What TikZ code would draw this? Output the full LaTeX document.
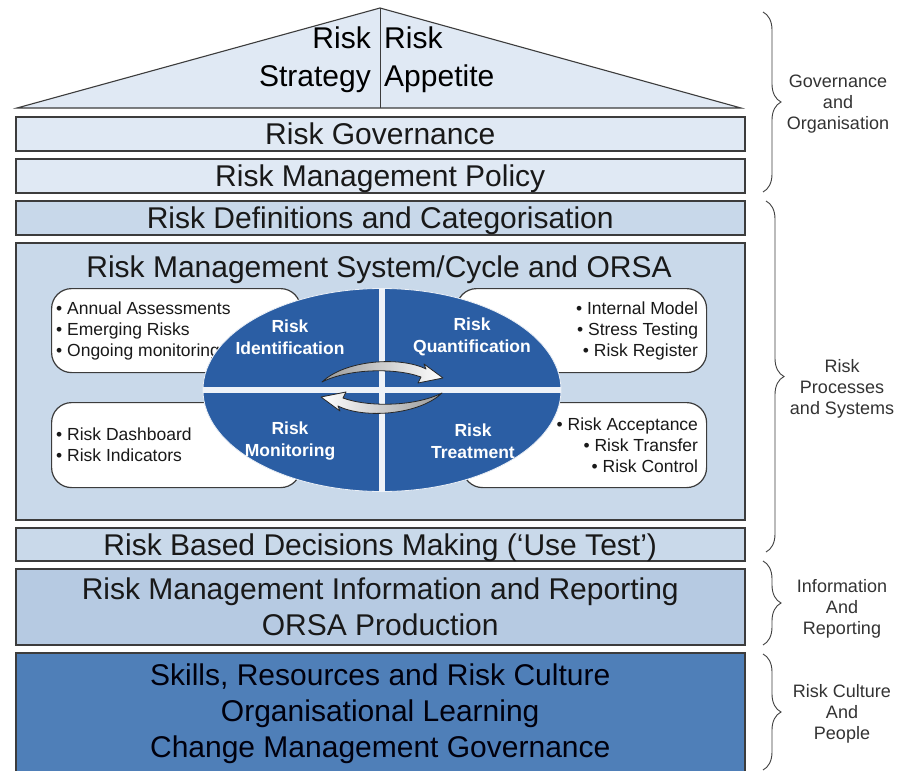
\documentclass[tikz,border=0pt]{standalone}
\usepackage{fontspec}
\setmainfont{Liberation Sans}
\usepackage{tikz}
\usepackage{xcolor}
\usetikzlibrary{arrows.meta, positioning, shapes.geometric, decorations.pathreplacing, calc}
\definecolor{govFill}{HTML}{E0E9F4}
\definecolor{defFill}{HTML}{C8D8EA}
\definecolor{sysFill}{HTML}{C9D9EA}
\definecolor{infoFill}{HTML}{B6CAE2}
\definecolor{cultureFill}{HTML}{4F7FB8}
\definecolor{cycleBlue}{HTML}{2B5EA4}
\definecolor{edgeGray}{HTML}{3C3C3C}
\tikzset{
    layerBox/.style={draw=edgeGray, line width=1.5pt, inner sep=0pt, minimum width=729pt, anchor=north west,
        font=\fontsize{30}{36}\selectfont, align=center, text=black!90},
    flatText/.style={text height=21.5pt, text depth=0pt},
    roofShape/.style={draw=edgeGray, fill=govFill, line width=1.1pt, line join=miter},
    noteBox/.style={draw=edgeGray, fill=white, line width=1.2pt, rounded corners=20pt, inner sep=0pt, anchor=north west},
    noteText/.style={font=\fontsize{17.5}{21}\selectfont, inner sep=0pt, text=black!90},
    quadText/.style={font=\fontsize{17.5}{22}\selectfont\bfseries, text=white, align=center, inner sep=0pt},
    cycleDisc/.style={ellipse, fill=cycleBlue, draw=white!90!cycleBlue, line width=0.8pt,
        minimum width=358pt, minimum height=203pt, inner sep=0pt},
    gapLine/.style={draw=white!92!cycleBlue, line width=6pt},
    cycleArrow/.style={draw=black!85, line width=0.8pt, line join=round},
    sideBrace/.style={decorate, decoration={brace, amplitude=18pt}, draw=black!75, line width=0.9pt},
    sideLabel/.style={font=\fontsize{18}{21}\selectfont, text=black!80, align=center, inner sep=0pt}
}
\begin{document}
\begin{tikzpicture}[x=1pt, y=-1pt]
    \path[use as bounding box, fill=white] (0,0) rectangle (897,771);
    % --- Roof ---
    \coordinate (roofApex) at (380,8);
    \coordinate (roofLeft) at (17,108);
    \coordinate (roofRight) at (741,108);
    \draw[roofShape] (roofLeft) -- (roofApex) -- (roofRight) -- cycle;
    \draw[edgeGray, line width=0.9pt] (roofApex) -- (roofApex |- roofLeft);
    \node[anchor=east, align=right, inner sep=0pt, font=\fontsize{30}{38}\selectfont] (strategy) at (371,60) {Risk\\Strategy};
    \node[anchor=west, align=left, inner sep=0pt, font=\fontsize{30}{38}\selectfont] (appetite) at (384,60) {Risk\\Appetite};
    % --- Layers ---
    \node[layerBox, flatText, fill=govFill, minimum height=34pt] (gov) at (15,116) {Risk Governance};
    \node[layerBox, flatText, fill=govFill, minimum height=34pt] (policy) at (15,158) {Risk Management Policy};
    \node[layerBox, flatText, fill=defFill, minimum height=34pt] (defs) at (15,200) {Risk Definitions and Categorisation};
    \node[layerBox, fill=sysFill, minimum height=277pt] (rms) at (15,242) {};
    \node[anchor=base, inner sep=0pt, font=\fontsize{30}{36}\selectfont, text=black!90] (rmsTitle) at (379,277) {Risk Management System/Cycle and ORSA};
    \node[layerBox, flatText, fill=sysFill, minimum height=33pt] (decision) at (15,527) {Risk Based Decisions Making (‘Use Test’)};
    \node[layerBox, fill=infoFill, minimum height=76pt] (info) at (15,568) {Risk Management Information and Reporting\\ORSA Production};
    \node[layerBox, fill=cultureFill, minimum height=121pt, text=black!95!blue] (culture) at (15,652) {Skills, Resources and Risk Culture\\Organisational Learning\\Change Management Governance};
    % --- Notes ---
    \node[noteBox, minimum width=249pt, minimum height=84pt] (noteIdent) at (51,288) {};
    \node[noteBox, minimum width=250pt, minimum height=84pt] (noteQuant) at (456,288) {};
    \node[noteBox, minimum width=249pt, minimum height=85pt] (noteMon) at (51,402) {};
    \node[noteBox, minimum width=244pt, minimum height=85pt] (noteTreat) at (462,402) {};
    \node[noteText, anchor=west, align=left] (identList) at ([xshift=5pt]noteIdent.west)
        {\textbullet\ Annual Assessments\\\textbullet\ Emerging Risks\\\textbullet\ Ongoing monitoring};
    \node[noteText, anchor=east, align=right] (quantList) at ([xshift=-9pt]noteQuant.east)
        {\textbullet\ Internal Model\\\textbullet\ Stress Testing\\\textbullet\ Risk Register};
    \node[noteText, anchor=west, align=left] (monList) at ([xshift=5pt]noteMon.west)
        {\textbullet\ Risk Dashboard\\\textbullet\ Risk Indicators};
    \node[noteText, anchor=east, align=right] (treatList) at ([xshift=-9pt]noteTreat.east)
        {\textbullet\ Risk Acceptance\\\textbullet\ Risk Transfer\\\textbullet\ Risk Control};
    % --- Cycle ---
    \node[cycleDisc] (cycle) at (382,390) {};
    \draw[gapLine] (cycle.north) -- (cycle.south);
    \draw[gapLine] (cycle.west) -- (cycle.east);
    \node[quadText] (ident) at (290,337) {Risk\\Identification};
    \node[quadText] (quant) at (472,337) {Risk\\Quantification};
    \node[quadText] (monit) at (290,441) {Risk\\Monitoring};
    \node[quadText] (treat) at (473,441) {Risk\\Treatment};
    \draw[cycleArrow, left color=black!40, right color=white] (322,382) .. controls (345,360) and (400,356) .. (426,369)
        -- (424,364) -- (443,378) -- (418,383) -- (421,377) .. controls (397,368) and (350,368) .. (322,382) -- cycle;
    \draw[cycleArrow, left color=white, right color=black!40] (442,393) .. controls (419,415) and (364,419) .. (338,406)
        -- (340,411) -- (321,397) -- (346,392) -- (343,398) .. controls (367,407) and (414,407) .. (442,393) -- cycle;
    % --- Braces ---
    \draw[sideBrace] (763,12) -- (763,192);
    \draw[sideBrace] (766,201) -- (766,552);
    \draw[sideBrace] (763,561) -- (763,645);
    \draw[sideBrace] (763,654) -- (763,770);
    \node[sideLabel] (govLabel) at (838,104) {Governance\\and\\Organisation};
    \node[sideLabel] (procLabel) at (842,389) {Risk\\Processes\\and Systems};
    \node[sideLabel] (infoLabel) at (842,609) {Information\\And\\Reporting};
    \node[sideLabel] (cultLabel) at (842,714) {Risk Culture\\And\\People};
\end{tikzpicture}
\end{document}
